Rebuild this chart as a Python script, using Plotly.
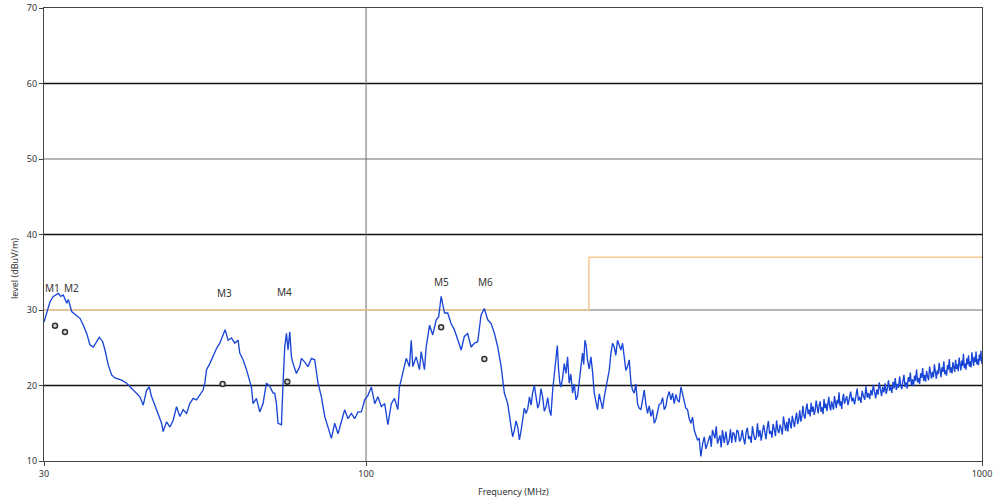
import math
import plotly.graph_objects as go

# ---- measured spectrum (peak trace), frequency in MHz, level in dBuV/m ----
freq_low = [
    30.0, 30.68, 31.06, 31.65, 31.94, 32.24, 32.66, 32.85, 33.27, 33.90, 34.32, 34.74,
    35.19, 35.62, 36.07, 36.53, 36.89, 37.36, 37.68, 38.15, 38.63, 39.11, 40.10, 40.86,
    41.88, 42.94, 43.47, 44.03, 44.46, 44.86, 45.41, 45.98, 46.56, 46.84, 47.44, 48.03,
    48.63, 49.24, 49.85, 50.47, 51.12, 51.74, 52.39, 53.06, 53.72, 54.38, 54.73, 55.08,
    55.76, 56.45, 57.17, 57.88, 58.60, 59.04, 59.70, 60.46, 61.21, 61.97, 62.37, 63.14,
    63.95, 64.74, 65.15, 65.54, 66.38, 67.20, 68.04, 68.47, 68.91, 69.76, 70.63, 71.08,
    71.53, 71.96, 72.88, 73.32, 73.79, 74.26, 74.70, 75.18, 75.66, 76.11, 77.08, 78.04,
    78.54, 79.51, 80.50, 81.53, 82.54, 83.56, 84.63, 85.68, 86.74, 87.85, 88.94, 90.04,
    91.19, 92.32, 93.47, 94.66, 95.84, 97.03, 98.27, 99.48, 100.72, 102.0, 103.3, 104.5,
    105.9, 107.2, 108.5, 109.9, 111.2, 112.6, 113.3, 114.7, 116.2, 117.6, 118.4, 119.1,
    120.6, 122.1, 122.9, 124.4, 125.2, 126.8, 128.3, 130.0, 131.2, 132.4, 133.2, 134.1,
    135.7, 137.4, 139.1, 140.9, 142.7, 144.4, 146.2, 148.1, 149.9, 151.8, 153.7, 155.6,
    157.6, 159.6, 161.6, 163.6, 165.7, 167.7, 169.8,
]
level_low = [
    28.4, 31.1, 31.8, 32.2, 31.8, 32.0, 30.9, 31.4, 29.8, 29.3, 28.9, 28.0,
    26.9, 25.4, 25.1, 25.8, 26.4, 25.8, 24.7, 22.7, 21.4, 21.0, 20.7, 20.3,
    19.4, 18.5, 17.4, 19.4, 19.8, 18.5, 17.4, 16.3, 15.0, 13.9, 15.2, 14.5,
    15.4, 17.2, 15.9, 16.8, 16.3, 17.6, 18.3, 18.1, 18.7, 19.4, 20.3, 22.1,
    22.9, 24.0, 24.9, 25.6, 26.7, 27.4, 26.0, 26.3, 25.6, 26.0, 24.3, 23.4,
    22.1, 20.7, 19.8, 17.6, 18.3, 16.5, 17.6, 19.0, 20.3, 19.9, 19.0, 19.0,
    17.6, 15.0, 14.8, 20.3, 25.1, 26.9, 24.7, 27.1, 23.8, 22.9, 21.6, 22.5,
    23.6, 23.1, 22.5, 23.6, 23.4, 20.3, 18.5, 15.9, 14.5, 13.0, 15.0, 13.6,
    15.2, 16.8, 15.6, 16.3, 15.6, 16.5, 16.5, 18.1, 18.7, 19.8, 17.6, 18.5,
    17.2, 17.6, 14.8, 17.6, 18.3, 16.8, 19.8, 21.6, 23.6, 22.5, 26.0, 22.5,
    23.8, 22.1, 24.5, 22.1, 25.1, 28.0, 26.7, 28.7, 29.1, 31.8, 30.9, 29.6,
    29.6, 28.2, 27.4, 26.0, 24.7, 26.5, 26.9, 25.1, 25.6, 25.8, 29.3, 30.2,
    28.7, 28.2, 26.9, 25.1, 22.5, 19.0, 17.6,
]

freq_mid = [
    172.0, 173.0, 174.1, 175.2, 176.3, 177.4, 178.5, 179.6, 180.7, 181.9, 183.0, 184.2,
    185.3, 186.4, 187.6, 188.8, 190.0, 191.1, 192.3, 193.5, 194.7, 196.0, 197.2, 198.4,
    199.6, 200.9, 202.1, 203.4, 204.4, 205.4, 206.3, 207.2, 208.5, 209.8, 211.1, 212.4,
    213.0, 213.7, 215.0, 216.4, 217.8, 219.2, 220.5, 221.9, 223.2, 224.6, 225.6, 226.6,
    227.7, 228.8, 230.3, 231.8, 233.2, 234.7, 236.1, 237.6, 239.1, 240.6, 242.1, 243.6,
    245.1, 246.6, 248.2, 249.8, 251.3, 252.9, 254.4, 256.0, 257.6, 259.3, 260.9, 262.5,
    264.1, 265.8, 267.5, 269.2, 270.8, 272.5, 274.2, 275.9, 277.6, 279.4, 281.1, 282.9,
    284.6, 286.4, 288.2, 290.1, 291.9, 293.7, 295.5, 297.3, 299.2, 301.1, 303.0, 304.9,
    306.7, 308.6, 310.6, 312.6, 314.5, 316.4, 318.4, 320.4, 322.4, 324.5, 326.5, 328.5,
    330.5, 332.6, 334.7, 336.8, 338.9, 341.0, 343.1, 345.2, 347.4, 349.6, 351.8, 354.0,
    356.2, 358.4, 361.7, 363.5, 365.1, 368.5, 370.3, 372.0, 375.5, 377.2, 379.0, 381.5,
    384.0, 386.4, 388.7, 390.5, 392.3, 394.2, 396.0, 398.0, 400.0,
]
level_mid = [
    14.5, 13.2, 14.1, 15.3, 14.5, 12.8, 14.0, 15.4, 17.0, 16.3, 16.9, 18.5,
    17.4, 19.0, 20.0, 18.5, 17.0, 17.6, 19.6, 18.5, 16.6, 17.2, 18.4, 16.8,
    16.0, 19.4, 21.8, 24.3, 25.3, 22.1, 20.4, 19.8, 21.0, 22.9, 21.6, 23.8,
    22.6, 20.3, 21.5, 19.0, 20.2, 18.1, 18.6, 20.7, 23.0, 24.3, 22.8, 26.0,
    25.3, 23.4, 22.2, 23.8, 21.8, 19.0, 17.9, 16.8, 18.9, 17.6, 16.9, 18.5,
    19.8, 21.2, 22.0, 24.3, 25.6, 25.1, 24.0, 26.0, 25.4, 24.7, 25.6, 23.4,
    22.0, 22.5, 23.4, 20.3, 19.4, 19.0, 20.2, 17.6, 17.0, 16.8, 18.2, 19.4,
    17.6, 16.3, 17.3, 15.9, 16.8, 15.0, 15.5, 16.3, 17.5, 17.6, 18.4, 16.8,
    17.2, 18.5, 19.2, 18.1, 19.0, 17.6, 18.8, 18.1, 17.8, 19.8, 18.8, 18.1,
    17.0, 16.8, 15.6, 15.0, 15.8, 14.1, 13.4, 12.8, 13.0, 10.6, 12.2, 13.2,
    11.6, 12.3, 13.4, 11.9, 14.1, 13.0, 14.6, 12.3, 13.4, 11.8, 14.1, 12.4,
    13.9, 12.1, 12.8, 14.2, 12.4, 13.8, 13.6, 12.5, 14.1,
]

freq_high = [
    402, 404, 406, 408, 410, 412, 414, 416, 418, 420,
    422, 424, 426, 428, 430, 432, 434, 436, 438, 440,
    442, 444, 446, 448, 450, 452, 454, 456, 458, 460,
    462, 464, 466, 468, 470, 472, 474, 476, 478, 480,
    482, 484, 486, 488, 490, 492, 494, 496, 498, 500,
    502, 504, 506, 508, 510, 512, 514, 516, 518, 520,
    522, 524, 526, 528, 530, 532, 534, 536, 538, 540,
    542, 544, 546, 548, 550, 552, 554, 556, 558, 560,
    562, 564, 566, 568, 570, 572, 574, 576, 578, 580,
    582, 584, 586, 588, 590, 592, 594, 596, 598, 600,
    603, 606, 609, 612, 615, 618, 621, 624, 627, 630,
    633, 636, 639, 642, 645, 648, 651, 654, 657, 660,
    663, 666, 669, 672, 675, 678, 681, 684, 687, 690,
    693, 696, 699, 702, 705, 708, 711, 714, 717, 720,
    723, 726, 729, 732, 735, 738, 741, 744, 747, 750,
    753, 756, 759, 762, 765, 768, 771, 774, 777, 780,
    783, 786, 789, 792, 795, 798, 801, 804, 807, 810,
    813, 816, 819, 822, 825, 828, 831, 834, 837, 840,
    843, 846, 849, 852, 855, 858, 861, 864, 867, 870,
    873, 876, 879, 882, 885, 888, 891, 894, 897, 900,
    903, 906, 909, 912, 915, 918, 921, 924, 927, 930,
    933, 936, 939, 942, 945, 948, 951, 954, 957, 960,
    963, 966, 969, 972, 975, 978, 981, 984, 987, 990,
    993, 996, 999, 1000,
]
level_high = [
    13.9, 12.6, 12.9, 14.1, 13.0, 12.2, 13.8, 14.4, 12.9, 13.3,
    12.4, 14.6, 13.5, 12.8, 13.1, 15.0, 13.2, 14.1, 12.7, 13.6,
    14.8, 13.9, 12.9, 14.4, 15.3, 13.6, 14.0, 13.1, 14.9, 14.2,
    13.3, 15.4, 14.1, 13.7, 14.8, 14.3, 13.5, 15.9, 14.6, 14.0,
    15.2, 13.9, 15.7, 14.8, 14.3, 16.0, 15.1, 14.5, 15.6, 16.4,
    14.9, 15.5, 16.7, 15.2, 15.9, 17.3, 16.0, 15.6, 16.9, 17.6,
    16.2, 16.8, 15.9, 17.7, 16.5, 17.2, 16.1, 16.7, 18.0, 16.8,
    16.3, 17.4, 17.9, 16.5, 17.1, 16.2, 18.2, 17.0, 17.6, 16.6,
    17.3, 18.5, 17.2, 16.7, 17.9, 17.4, 16.8, 18.6, 17.5, 17.0,
    18.1, 17.6, 19.1, 17.3, 17.9, 16.9, 18.3, 18.9, 17.6, 18.2,
    18.6, 17.4, 18.1, 19.2, 17.9, 18.4, 17.5, 18.8, 19.6, 18.0,
    18.5, 17.7, 19.3, 18.6, 18.1, 19.9, 18.4, 19.0, 18.2, 19.4,
    18.7, 20.1, 18.9, 18.3, 19.5, 18.8, 20.4, 19.2, 18.6, 19.8,
    19.1, 20.3, 18.9, 19.6, 20.7, 19.3, 19.9, 19.0, 20.5, 19.6,
    21.0, 19.4, 20.2, 19.7, 21.2, 20.0, 19.5, 20.6, 21.4, 19.8,
    20.4, 19.6, 21.1, 20.5, 21.7, 20.0, 20.8, 19.9, 21.3, 20.6,
    22.1, 20.4, 21.0, 20.2, 21.6, 21.0, 22.3, 20.6, 21.4, 20.5,
    21.9, 21.2, 20.7, 22.5, 21.3, 20.9, 21.8, 21.1, 22.8, 21.4,
    20.9, 22.0, 21.5, 23.0, 21.6, 21.1, 22.4, 21.8, 23.2, 21.5,
    22.0, 21.3, 22.7, 22.1, 23.5, 21.7, 22.4, 21.6, 23.1, 22.3,
    21.8, 23.4, 22.2, 22.8, 21.9, 23.7, 22.5, 22.0, 23.3, 22.6,
    24.2, 22.3, 22.9, 22.1, 23.6, 22.8, 24.0, 22.5, 23.2, 22.4,
    24.4, 23.0, 22.6, 23.8, 23.1, 24.5, 22.8, 23.5, 22.7, 24.1,
    23.3, 24.6, 22.9, 23.4,
]

assert len(freq_low) == len(level_low)
assert len(freq_mid) == len(level_mid)
assert len(freq_high) == len(level_high)

trace_freq = freq_low + freq_mid + freq_high
trace_level = level_low + level_mid + level_high

# ---- limit line ----
limit_freq = [30, 230, 230, 1000]
limit_level = [30, 30, 37, 37]

# ---- quasi-peak markers ----
marker_names = ["M1", "M2", "M3", "M4", "M5", "M6"]
marker_freq = [31.26, 32.45, 58.5, 74.5, 132.4, 155.6]
marker_level = [27.9, 27.1, 20.2, 20.5, 27.7, 23.5]
label_freq = [31.0, 33.3, 59.0, 73.8, 132.4, 156.0]
label_level = [32.9, 32.9, 32.2, 32.4, 33.7, 33.7]

# ---- axes ----
y_ticks = [10, 20, 30, 40, 50, 60, 70]
x_ticks = [30, 100, 1000]
x_tick_text = ["30", "100", "1000"]
major_grid = [20, 40, 60]
minor_grid = [30, 50]
vertical_grid = [100]

FONT = "Noto Sans"
TEXT = "#333333"

fig = go.Figure()

fig.add_trace(go.Scatter(
    x=limit_freq, y=limit_level, mode="lines",
    line=dict(color="#f3c98f", width=1.5), hoverinfo="skip", showlegend=False,
))

fig.add_trace(go.Scatter(
    x=trace_freq, y=trace_level, mode="lines",
    line=dict(color="#1a46d6", width=1.35), showlegend=False,
))

fig.add_trace(go.Scatter(
    x=marker_freq, y=marker_level, mode="markers",
    marker=dict(symbol="circle", size=5, color="#d8d8d8",
                line=dict(color="#333333", width=1.5)),
    text=marker_names, showlegend=False,
))

shapes = []
for g in major_grid:
    shapes.append(dict(type="line", xref="paper", x0=0, x1=1, yref="y", y0=g, y1=g,
                       line=dict(color="#111111", width=1.5), layer="below"))
for g in minor_grid:
    shapes.append(dict(type="line", xref="paper", x0=0, x1=1, yref="y", y0=g, y1=g,
                       line=dict(color="#6f6f6f", width=1), layer="below"))
for g in vertical_grid:
    shapes.append(dict(type="line", xref="x", x0=g, x1=g, yref="paper", y0=0, y1=1,
                       line=dict(color="#6a6a6a", width=1), layer="below"))

annotations = []
# annotation x on a log axis is given in log10 units
for name, fx, ly in zip(marker_names, label_freq, label_level):
    annotations.append(dict(x=math.log10(fx), y=ly, xref="x", yref="y", text=name,
                            showarrow=False, xanchor="center", yanchor="middle",
                            font=dict(family=FONT, size=10, color=TEXT)))

annotations.append(dict(x=-0.032, y=0.426, xref="paper", yref="paper",
                        text="level (dBuV/m)", textangle=-90, showarrow=False,
                        xanchor="center", yanchor="middle",
                        font=dict(family=FONT, size=9, color=TEXT)))
annotations.append(dict(x=0.5, y=-0.068, xref="paper", yref="paper",
                        text="Frequency (MHz)", showarrow=False,
                        xanchor="center", yanchor="middle",
                        font=dict(family=FONT, size=9, color=TEXT)))

fig.update_layout(
    width=996, height=504,
    margin=dict(l=44, r=14, t=8, b=43, autoexpand=False),
    paper_bgcolor="white", plot_bgcolor="white",
    shapes=shapes, annotations=annotations,
    font=dict(family=FONT, size=9, color=TEXT),
    xaxis=dict(type="log", range=[math.log10(30), 3.0], tickvals=x_ticks, ticktext=x_tick_text,
               showgrid=False, zeroline=False, showline=True, mirror=True, automargin=False,
               linecolor="#444444", linewidth=1.2, ticks="outside", ticklen=4,
               tickcolor="#444444", tickfont=dict(family=FONT, size=9, color=TEXT)),
    yaxis=dict(range=[10, 70], tickvals=y_ticks, showgrid=False, zeroline=False,
               showline=True, mirror=True, automargin=False, linecolor="#444444", linewidth=1.2,
               ticks="outside", ticklen=4, tickcolor="#444444",
               tickfont=dict(family=FONT, size=9, color=TEXT)),
)

fig.write_html("out.html")
